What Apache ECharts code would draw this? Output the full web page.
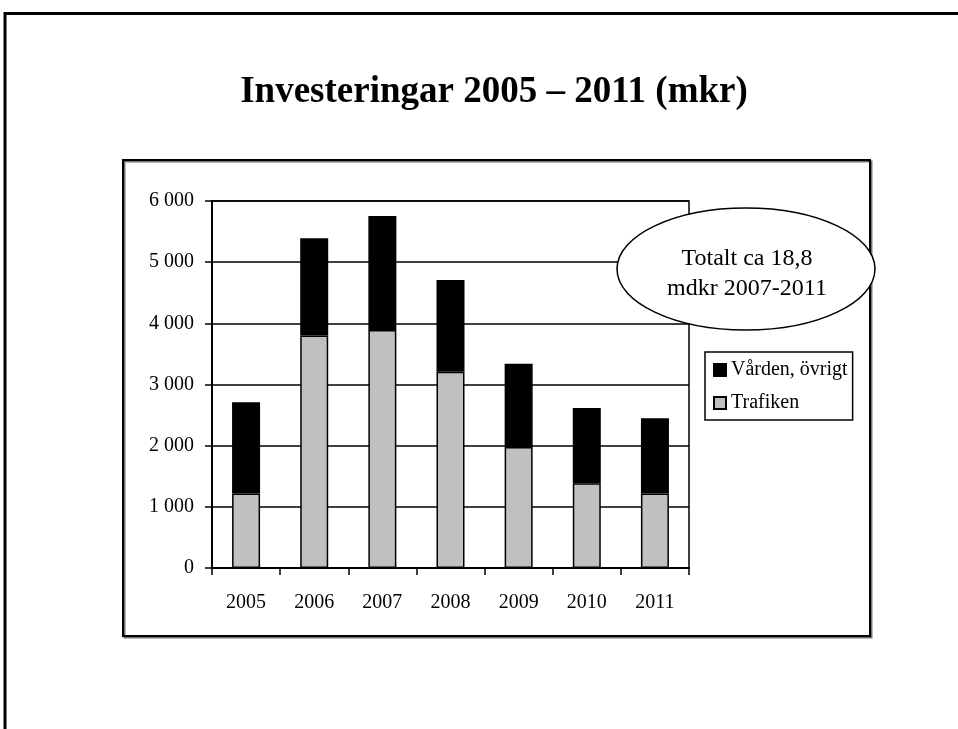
<!DOCTYPE html>
<html>
<head>
<meta charset="utf-8">
<title>Investeringar 2005 – 2011</title>
<script src="https://cdn.jsdelivr.net/npm/echarts@6/dist/echarts.min.js"></script>
<style>
  html, body { margin: 0; padding: 0; background: #fff; }
  #main { width: 958px; height: 729px; }
</style>
</head>
<body>
<div id="main"></div>
<script>
// values (mkr)
const years = ['2005', '2006', '2007', '2008', '2009', '2010', '2011']
const trafiken = [1220, 3800, 3890, 3210, 1980, 1385, 1220]
const varden = [1490, 1590, 1865, 1500, 1360, 1230, 1230]
const seriesNames = ['Vården, övrigt', 'Trafiken']
const noteLines = ['Totalt ca 18,8', 'mdkr 2007-2011']

const serif = '"Liberation Serif", "Times New Roman", serif'

// "6 000" style thousands
function fmt (v) {
  return String(v).replace(/\B(?=(\d{3})+(?!\d))/g, ' ')
}

let chart = echarts.init(document.getElementById('main'), null, { renderer: 'canvas' })

let option = {
  animation: false,
  backgroundColor: '#fff',
  title: {
    text: 'Investeringar 2005 – 2011 (mkr)',
    left: 489,
    top: 69,
    textAlign: 'center',
    textStyle: { fontFamily: serif, fontWeight: 'bold', fontSize: 37, color: '#000' }
  },
  grid: {
    left: 212,
    top: 201,
    width: 477,
    height: 367,
    show: true,
    borderColor: '#000',
    borderWidth: 1.5,
    backgroundColor: 'transparent'
  },
  legend: {
    orient: 'vertical',
    left: 705,
    top: 352,
    data: seriesNames,
    itemWidth: 12,
    itemHeight: 12,
    itemGap: 13,
    icon: 'rect',
    padding: [8, 5, 7, 8],
    borderColor: '#000',
    borderWidth: 1.5,
    backgroundColor: '#fff',
    textStyle: { fontFamily: serif, fontSize: 20, color: '#000' }
  },
  xAxis: {
    type: 'category',
    data: years,
    axisLine: { lineStyle: { color: '#000', width: 2 } },
    axisTick: { show: true, length: 7, lineStyle: { color: '#000', width: 1.5 } },
    axisLabel: { fontFamily: serif, fontSize: 20, color: '#000', margin: 25 }
  },
  yAxis: {
    type: 'value',
    min: 0,
    max: 6000,
    interval: 1000,
    axisLine: { show: true, lineStyle: { color: '#000', width: 2 } },
    axisTick: { show: true, length: 7, lineStyle: { color: '#000', width: 1.5 } },
    splitLine: { lineStyle: { color: '#000', width: 1.5 } },
    axisLabel: { fontFamily: serif, fontSize: 20, color: '#000', margin: 18, formatter: fmt }
  },
  series: [
    {
      name: 'Trafiken',
      type: 'bar',
      stack: 'total',
      barWidth: 28,
      data: trafiken,
      itemStyle: { color: '#c0c0c0', borderColor: '#000', borderWidth: 1.5 }
    },
    {
      name: 'Vården, övrigt',
      type: 'bar',
      stack: 'total',
      barWidth: 28,
      data: varden,
      itemStyle: { color: '#000', borderColor: '#000', borderWidth: 1.5 }
    }
  ],
  graphic: [
    // slide frame
    { type: 'line', shape: { x1: 4, y1: 13.5, x2: 958, y2: 13.5 }, style: { stroke: '#000', lineWidth: 3 }, silent: true },
    { type: 'line', shape: { x1: 5, y1: 12, x2: 5, y2: 729 }, style: { stroke: '#000', lineWidth: 3 }, silent: true },
    // chart box
    {
      type: 'rect',
      shape: { x: 123, y: 160, width: 747, height: 476 },
      style: { fill: 'none', stroke: '#000', lineWidth: 2, shadowColor: 'rgba(0,0,0,0.55)', shadowOffsetX: 1.5, shadowOffsetY: 1.5 },
      silent: true,
      z: -1
    },
    // callout
    {
      type: 'ellipse',
      shape: { cx: 746, cy: 269, rx: 129, ry: 61 },
      style: { fill: '#fff', stroke: '#000', lineWidth: 1.5 },
      z: 10,
      silent: true
    },
    {
      type: 'text',
      x: 747,
      y: 274,
      z: 11,
      silent: true,
      style: {
        text: noteLines.join('\n'),
        fontFamily: serif,
        fontSize: 24,
        lineHeight: 30,
        fill: '#000',
        align: 'center',
        verticalAlign: 'middle'
      }
    }
  ]
}

chart.setOption(option)
</script>
</body>
</html>
